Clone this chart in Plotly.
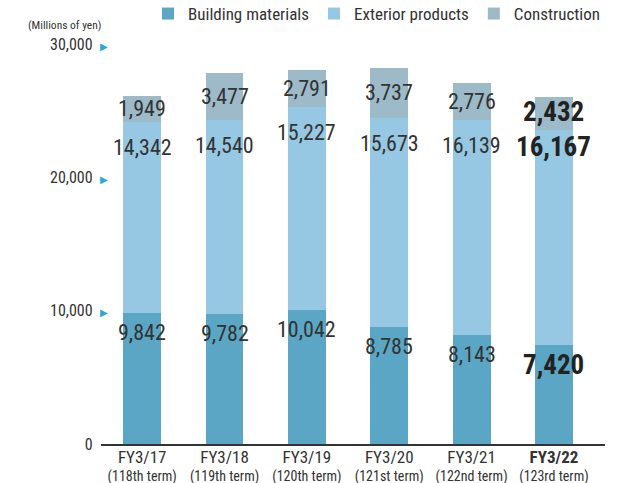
import plotly.graph_objects as go

categories = ["FY3/17", "FY3/18", "FY3/19", "FY3/20", "FY3/21", "FY3/22"]
terms = ["(118th term)", "(119th term)", "(120th term)", "(121st term)", "(122nd term)", "(123rd term)"]
building_materials = [9842, 9782, 10042, 8785, 8143, 7420]
exterior_products = [14342, 14540, 15227, 15673, 16139, 16167]
construction = [1949, 3477, 2791, 3737, 2776, 2432]
y_ticks = [0, 10000, 20000, 30000]

FONT = "Roboto Condensed, Roboto, sans-serif"
TXT = "#333333"
ARROW = "#2aa7d8"
NB = "\u00a0"

series = [
    ("Building materials", building_materials, "#5ba6c5"),
    ("Exterior products", exterior_products, "#96c7e3"),
    ("Construction", construction, "#9dbac8"),
]

fig = go.Figure()
for name, vals, col in series:
    fig.add_trace(go.Bar(
        x=categories, y=vals, name=name, marker=dict(color=col, line=dict(width=0)),
        width=0.46, hoverinfo="skip",
    ))

annotations = []
n = len(categories)
for i, c in enumerate(categories):
    last = i == n - 1
    size = 27 if last else 22
    bm_top = building_materials[i]
    ep_top = building_materials[i] + exterior_products[i]
    con_mid = ep_top + construction[i] / 2
    for val, y, anchor, shift in [
        (building_materials[i], bm_top, "top", -2 if last else -5),
        (exterior_products[i], ep_top, "top", 1 if last else -11),
        (construction[i], con_mid, "middle", 1 if last else 0),
    ]:
        s = f"{val:,}"
        annotations.append(dict(
            x=c, y=y, xref="x", yref="y", text=f"<b>{s}</b>" if last else s,
            showarrow=False, yanchor=anchor, xanchor="center", yshift=shift,
            font=dict(family=FONT, size=size, color="#222222" if last else TXT),
        ))

annotations.append(dict(text="(Millions of yen)", xref="paper", yref="paper", x=0.003, y=1.025,
                        xanchor="right", yanchor="bottom", showarrow=False,
                        font=dict(size=11.5, color=TXT, family=FONT)))

ticktext_x = []
for i, (c, t) in enumerate(zip(categories, terms)):
    head = f"<b>{c}</b>" if i == n - 1 else c
    ticktext_x.append(f"<span style='font-size:17px'>{head}</span><br>{t}")

ticktext_y = []
for v in y_ticks:
    col = ARROW if v else "rgba(0,0,0,0)"
    ticktext_y.append(f"{v:,}{NB}{NB}<span style='color:{col};font-size:10px'>▶</span>")

fig.update_layout(
    barmode="stack",
    width=629, height=483,
    margin=dict(l=101, r=24, t=44, b=39, autoexpand=False),
    paper_bgcolor="white", plot_bgcolor="white",
    font=dict(family=FONT, color=TXT, size=16),
    showlegend=True,
    legend=dict(orientation="h", x=1.0, xanchor="right", y=1.075, yanchor="middle",
                font=dict(size=17, color=TXT, family=FONT), traceorder="normal",
                itemwidth=30, bgcolor="rgba(0,0,0,0)"),
    xaxis=dict(range=[-0.5, 5.62], tickmode="array", tickvals=categories, ticktext=ticktext_x,
               showline=True, linecolor="#333333", linewidth=1.5, ticks="", automargin=False,
               showgrid=False, tickfont=dict(size=14, color=TXT, family=FONT)),
    yaxis=dict(range=[0, 30000], tickmode="array", tickvals=y_ticks, ticktext=ticktext_y,
               showline=False, showgrid=False, zeroline=False, ticks="", automargin=False,
               tickfont=dict(size=16, color=TXT, family=FONT), ticklabelstandoff=-8),
    annotations=annotations,
)

fig.write_html("out.html")
